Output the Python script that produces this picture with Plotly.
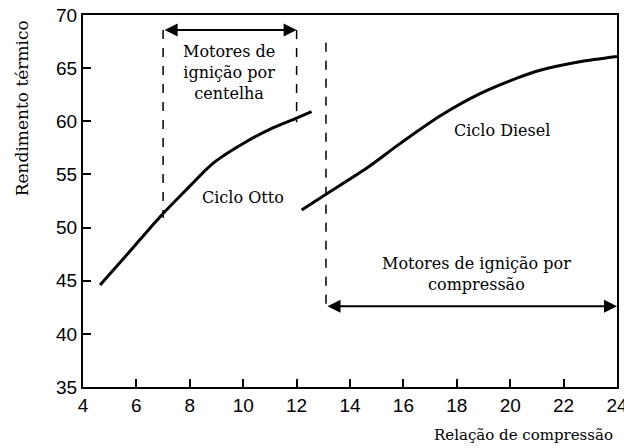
import plotly.graph_objects as go

# Data
otto_x = [4.64, 5.7, 6.88, 8.0, 8.63, 9.0, 10.13, 11.13, 12.0, 12.56]
otto_y = [44.6, 47.6, 51.0, 53.9, 55.5, 56.3, 58.1, 59.4, 60.3, 60.9]
diesel_x = [12.19, 13.06, 14.63, 15.87, 17.37, 18.87, 20.3, 21.12, 22.6, 24.0]
diesel_y = [51.66, 53.07, 55.6, 57.9, 60.5, 62.6, 64.1, 64.8, 65.6, 66.1]

x_ticks = [4, 6, 8, 10, 12, 14, 16, 18, 20, 22, 24]
y_ticks = [35, 40, 45, 50, 55, 60, 65, 70]

# Reference lines and ranges
dash_lines = [(7.0, 68.6, 50.9), (12.0, 68.6, 59.9), (13.1, 67.4, 42.6)]
spark_range = (7.0, 12.0, 68.6)
comp_range = (13.1, 24.0, 42.6)

serif = "DejaVu Serif"
fig = go.Figure()
fig.add_trace(go.Scatter(x=otto_x, y=otto_y, mode="lines", line=dict(color="black", width=3, shape="spline", smoothing=0.8), showlegend=False, hoverinfo="skip"))
fig.add_trace(go.Scatter(x=diesel_x, y=diesel_y, mode="lines", line=dict(color="black", width=3, shape="spline", smoothing=0.8), showlegend=False, hoverinfo="skip"))

for xv, y0, y1 in dash_lines:
    fig.add_shape(type="line", x0=xv, x1=xv, y0=y0, y1=y1, xref="x", yref="y",
                  line=dict(color="black", width=1.5, dash="dash"))

for (a, b, yv) in [spark_range, comp_range]:
    fig.add_annotation(x=b, y=yv, ax=a, ay=yv, xref="x", yref="y", axref="x", ayref="y",
                       text="", showarrow=True, arrowhead=2, startarrowhead=2, arrowside="end+start",
                       arrowsize=1.3, startarrowsize=1.3, arrowwidth=2, arrowcolor="black", standoff=0, startstandoff=0)

txt = [
    (9.47, 64.6, "Motores de<br>ignição por<br>centelha"),
    (18.75, 45.6, "Motores de ignição por<br>compressão"),
    (10.0, 52.8, "Ciclo Otto"),
    (19.7, 59.1, "Ciclo Diesel"),
]
for xv, yv, t in txt:
    fig.add_annotation(x=xv, y=yv, xref="x", yref="y", text=t, showarrow=False,
                       font=dict(family=serif, size=16, color="black"), align="center")

fig.add_annotation(x=-0.115, y=0.99, xref="paper", yref="paper", text="Rendimento térmico",
                   textangle=-90, showarrow=False, xanchor="center", yanchor="top",
                   font=dict(family=serif, size=17, color="black"))
fig.add_annotation(x=0.997, y=-0.1, xref="paper", yref="paper", text="Relação de compressão",
                   showarrow=False, xanchor="right", yanchor="top",
                   font=dict(family=serif, size=15, color="black"))

axis_common = dict(showgrid=False, zeroline=False, showline=True, linecolor="black", linewidth=2,
                   mirror=True, ticks="inside", ticklen=8, tickwidth=1.5, tickcolor="black",
                   ticklabeloverflow="allow", automargin=False,
                   tickfont=dict(family="Liberation Sans", size=19, color="black"))
fig.update_xaxes(range=[4, 24], tickvals=x_ticks, **axis_common)
fig.update_yaxes(range=[35, 70], tickvals=y_ticks, **axis_common)

fig.update_layout(width=624, height=448, margin=dict(l=83, r=7, t=15, b=61),
                  plot_bgcolor="white", paper_bgcolor="white", hovermode=False)
# remove the default page margin so the figure fills the window exactly
fig.write_html("out.html", config={"displayModeBar": False},
               post_script="document.body.style.margin='0';document.body.style.overflow='hidden';")
